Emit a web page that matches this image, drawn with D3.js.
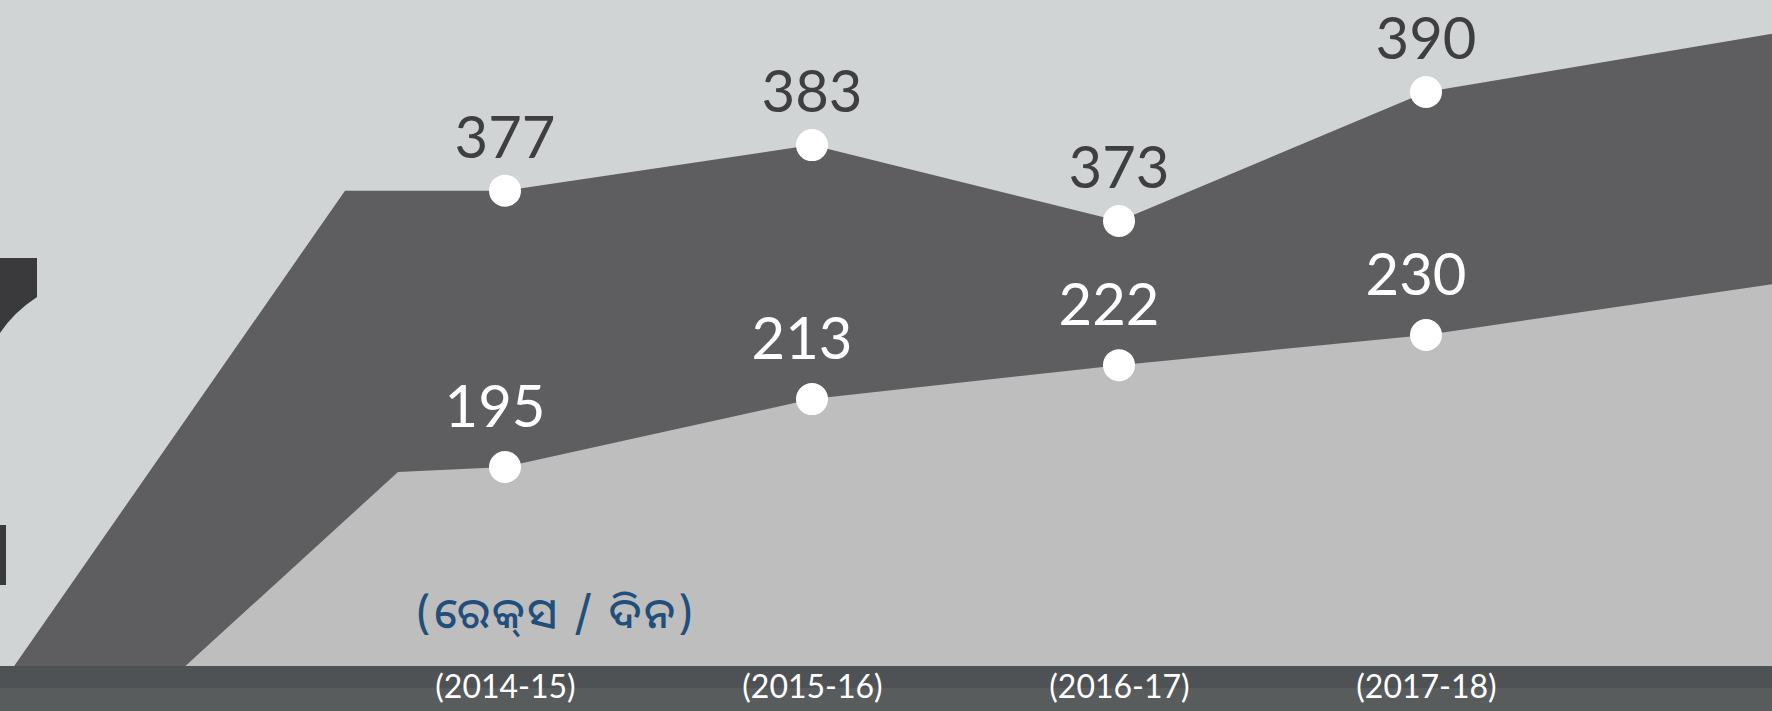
<!DOCTYPE html>
<html>
<head>
<meta charset="utf-8">
<script src="https://cdn.jsdelivr.net/npm/d3@7"></script>
<style>
  body { margin: 0; background: #d1d4d5; overflow: hidden; }
  svg { display: block; }
</style>
</head>
<body>
<script>
// data
const years = ["(2014-15)", "(2015-16)", "(2016-17)", "(2017-18)"];
const upper = [377, 383, 373, 390];
const lower = [195, 213, 222, 230];
const unitLabel = "(ରେକ୍\u200Cସ / ଦିନ)";

const W = 1772, H = 711;
const axisTop = 666;

const svg = d3.select("body").append("svg")
    .attr("width", W)
    .attr("height", H);

svg.append("rect")
    .attr("width", W)
    .attr("height", H)
    .attr("fill", "#d1d4d5");

// bits of the neighbouring graphic that are clipped at the left edge
svg.append("path")
    .attr("d", "M0,258 L37,258 L37,297 Q14,312 0,333 Z")
    .attr("fill", "#3a393b");
svg.append("rect")
    .attr("x", 0).attr("y", 525)
    .attr("width", 6).attr("height", 60)
    .attr("fill", "#3a393b");

const x = d3.scalePoint()
    .domain(years)
    .range([505, 1426]);

// each band has its own visual scale in the original
const yUp = d3.scaleLinear().domain([373, 390]).range([221, 92]);
const yLo = d3.scaleLinear().domain([195, 230]).range([467, 335]);

function bandPath(vals, y, knee, footSlope, tailSlope) {
    const pts = vals.map((v, i) => [x(years[i]), y(v)]);
    const first = pts[0], last = pts[pts.length - 1];
    const kx = first[0] + knee[0], ky = first[1] + knee[1];
    const fx = kx - (axisTop - ky) * footSlope;
    const tail = [W, last[1] + (W - last[0]) * tailSlope];
    const all = [[fx, axisTop], [kx, ky], ...pts, tail, [W, axisTop]];
    return d3.line()(all) + "Z";
}

svg.append("path")
    .attr("d", bandPath(upper, yUp, [-160, 0], 0.696, -0.168))
    .attr("fill", "#5e5e60");

svg.append("path")
    .attr("d", bandPath(lower, yLo, [-107, 5], 1.096, -0.147))
    .attr("fill", "#bdbebd");

// dots
const dots = svg.append("g");
dots.selectAll(".up")
    .data(upper)
    .join("circle")
    .attr("class", "up")
    .attr("cx", (d, i) => x(years[i]))
    .attr("cy", d => yUp(d))
    .attr("r", 16)
    .attr("fill", "#ffffff");
dots.selectAll(".lo")
    .data(lower)
    .join("circle")
    .attr("class", "lo")
    .attr("cx", (d, i) => x(years[i]))
    .attr("cy", d => yLo(d))
    .attr("r", 16)
    .attr("fill", "#ffffff");

// value labels
const labels = svg.append("g")
    .attr("font-family", "Lato, 'Open Sans', sans-serif")
    .attr("font-size", 58)
    .attr("text-anchor", "middle");
labels.selectAll(".up")
    .data(upper)
    .join("text")
    .attr("class", "up")
    .attr("x", (d, i) => x(years[i]))
    .attr("y", d => yUp(d) - 33)
    .attr("fill", "#3f3f41")
    .text(d => d);
labels.selectAll(".lo")
    .data(lower)
    .join("text")
    .attr("class", "lo")
    .attr("x", (d, i) => x(years[i]) - 10)
    .attr("y", d => yLo(d) - 40)
    .attr("fill", "#ffffff")
    .text(d => d);

// unit
svg.append("text")
    .attr("x", 556)
    .attr("y", 628)
    .attr("text-anchor", "middle")
    .attr("font-family", "'Noto Sans Oriya', 'Noto Sans', sans-serif")
    .attr("font-size", 42)
    .attr("font-weight", 500)
    .attr("letter-spacing", 3)
    .attr("fill", "#1f4f7a")
    .text(unitLabel);

// axis bar
svg.append("rect")
    .attr("x", 0).attr("y", axisTop)
    .attr("width", W).attr("height", 22)
    .attr("fill", "#4f5254");
svg.append("rect")
    .attr("x", 0).attr("y", axisTop + 22)
    .attr("width", W).attr("height", H - axisTop - 22)
    .attr("fill", "#585c5d");

const axis = svg.append("g")
    .attr("transform", `translate(0,${axisTop})`)
    .call(d3.axisBottom(x).tickSize(0).tickPadding(0));
axis.select(".domain").remove();
axis.selectAll("text")
    .attr("dy", 0)
    .attr("y", 32)
    .attr("fill", "#ffffff")
    .attr("font-family", "Lato, 'Open Sans', sans-serif")
    .attr("font-size", 32);
</script>
</body>
</html>
